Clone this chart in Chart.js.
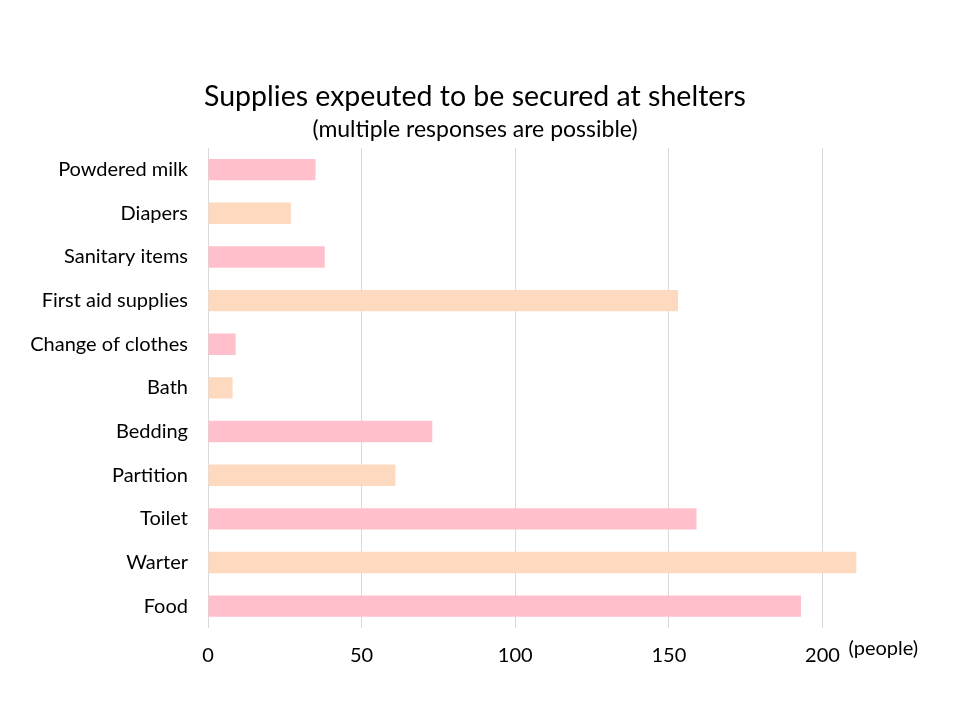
<!DOCTYPE html>
<html lang="en">
<head>
    <meta charset="UTF-8">
    <title>Supplies expeuted to be secured at shelters</title>
    <script src="https://cdn.jsdelivr.net/npm/chart.js@4.4.0/dist/chart.umd.min.js"></script>
    <style>
        body { margin: 0; background: #fff; }
        #wrap { width: 960px; height: 720px; }
    </style>
</head>
<body>
    <div id="wrap"><canvas id="chart"></canvas></div>

    <script>
        // top to bottom, as in the picture
        const categories = ['Powdered milk', 'Diapers', 'Sanitary items', 'First aid supplies', 'Change of clothes',
            'Bath', 'Bedding', 'Partition', 'Toilet', 'Warter', 'Food'];
        const people = [35, 27, 38, 153, 9, 8, 73, 61, 159, 211, 193];
        const barColors = ['#FFC0CB', '#FDDABF'];
        const xTicks = [0, 50, 100, 150, 200];

        const font = 'Lato, "Open Sans", sans-serif';

        // "(people)" unit label next to the last tick
        const unitLabel = {
            id: 'unitLabel',
            afterDraw(chart) {
                const ctx = chart.ctx;
                const x = chart.scales.x;
                ctx.save();
                ctx.font = '20px ' + font;
                ctx.fillStyle = '#000';
                ctx.textBaseline = 'middle';
                ctx.textAlign = 'left';
                ctx.fillText('(people)', x.getPixelForValue(200) + 26, chart.chartArea.bottom + 21);
                ctx.restore();
            }
        };

        const ctx = document.getElementById('chart').getContext('2d');
        new Chart(ctx, {
            type: 'bar',
            data: {
                labels: categories,
                datasets: [{
                    data: people,
                    backgroundColor: people.map((v, i) => barColors[i % 2]),
                    borderWidth: 0,
                    categoryPercentage: 0.98,
                    barPercentage: 0.5
                }]
            },
            options: {
                indexAxis: 'y',
                responsive: true,
                maintainAspectRatio: false,
                animation: false,
                layout: { padding: { top: 80, bottom: 36, left: 0, right: 10 } },
                plugins: {
                    legend: { display: false },
                    tooltip: { enabled: false },
                    title: {
                        display: true,
                        text: 'Supplies expeuted to be secured at shelters',
                        font: { family: font, size: 28.5, weight: 'normal' },
                        color: '#000',
                        padding: { top: 0, bottom: 2 }
                    },
                    subtitle: {
                        display: true,
                        text: '(multiple responses are possible)',
                        font: { family: font, size: 23, weight: 'normal' },
                        color: '#000',
                        padding: { top: 0, bottom: 4 }
                    }
                },
                scales: {
                    x: {
                        min: 0,
                        max: 241.5,
                        afterBuildTicks(scale) {
                            scale.ticks = xTicks.map(v => ({ value: v }));
                        },
                        grid: { color: '#D9D9D9', lineWidth: 1, drawTicks: false },
                        border: { display: false },
                        ticks: {
                            color: '#000',
                            padding: 16,
                            font: { family: font, size: 20 }
                        }
                    },
                    y: {
                        grid: { display: false },
                        border: { display: false },
                        afterFit(scale) { scale.width = 208; },
                        ticks: {
                            color: '#000',
                            padding: 12,
                            font: { family: font, size: 20 }
                        }
                    }
                }
            },
            plugins: [unitLabel]
        });
    </script>
</body>
</html>
